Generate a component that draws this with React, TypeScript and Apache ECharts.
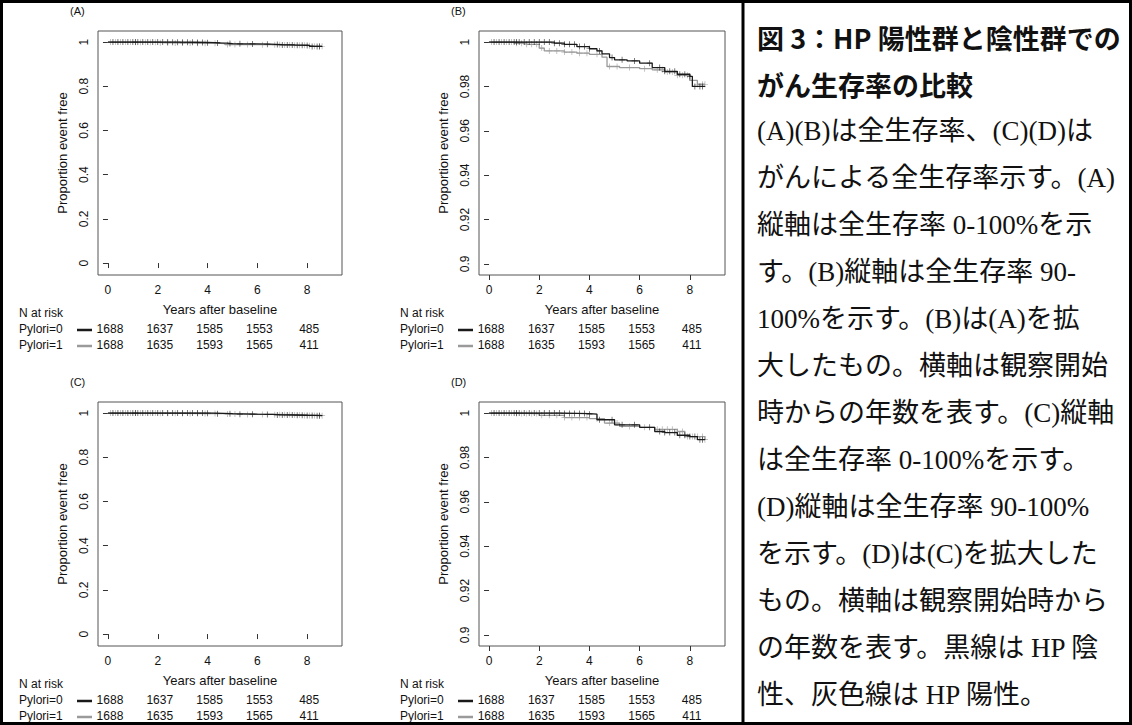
import React, { useEffect, useRef } from "react";
import * as echarts from "echarts";

// Kaplan–Meier step data [years, proportion]
const overallNeg: number[][] = [[0,1],[2.5,1],[2.6,0.9995],[3.0,0.999],[3.5,0.998],[4.0,0.997],[4.3,0.996],[4.5,0.9947],[4.8,0.993],[5.0,0.992],[5.5,0.9915],[6.0,0.9905],[6.5,0.9885],[7.0,0.9868],[7.5,0.9855],[8.0,0.9845],[8.1,0.980],[8.6,0.980]];
const overallPos: number[][] = [[0,1],[1.0,0.9995],[1.5,0.999],[2.0,0.9973],[2.2,0.996],[3.0,0.9955],[3.5,0.995],[4.0,0.9945],[4.5,0.9932],[4.7,0.989],[5.2,0.9885],[6.0,0.988],[6.5,0.9875],[7.0,0.9865],[7.5,0.985],[8.0,0.9827],[8.3,0.981],[8.6,0.981]];
const cancerNeg: number[][] = [[0,1],[2.3,1],[3.0,0.9998],[4.0,0.9995],[4.3,0.997],[5.0,0.9947],[6.0,0.9936],[6.6,0.9917],[7.0,0.9912],[7.5,0.990],[8.0,0.9894],[8.3,0.988],[8.6,0.988]];
const cancerPos: number[][] = [[0,1],[1.0,0.9998],[2.0,0.999],[3.0,0.998],[4.0,0.9975],[4.6,0.9955],[5.2,0.994],[6.0,0.9936],[6.6,0.9927],[7.5,0.9917],[7.8,0.9894],[8.6,0.988]];
// censoring times
const censorNeg: number[] = [0.2,0.4,0.6,0.8,1.0,1.1,1.2,1.4,1.6,1.8,2.0,2.2,2.4,2.6,2.8,3.0,3.2,3.4,3.6,3.8,4.0,4.4,4.9,5.3,5.8,6.4,6.8,7.0,7.2,7.4,7.6,7.8,8.0,8.2,8.4,8.5];
const censorPos: number[] = [0.1,0.3,0.5,0.7,0.9,1.1,1.3,1.5,1.7,1.9,2.1,2.4,2.7,3.0,3.3,3.6,3.9,4.3,4.8,5.1,5.6,6.2,6.7,6.9,7.1,7.3,7.5,7.7,7.9,8.1,8.3,8.5,8.6];
const xTicks = [0, 2, 4, 6, 8];
const riskNeg = [1688, 1637, 1585, 1553, 485];
const riskPos = [1688, 1635, 1593, 1565, 411];
const panelLabels = ["(A)", "(B)", "(C)", "(D)"];
const captionTitle = ["図 3：HP 陽性群と陰性群での", "がん生存率の比較"];
const captionBody = [
  "(A)(B)は全生存率、(C)(D)は",
  "がんによる全生存率示す。(A)",
  "縦軸は全生存率 0-100%を示",
  "す。(B)縦軸は全生存率 90-",
  "100%を示す。(B)は(A)を拡",
  "大したもの。横軸は観察開始",
  "時からの年数を表す。(C)縦軸",
  "は全生存率 0-100%を示す。",
  "(D)縦軸は全生存率 90-100%",
  "を示す。(D)は(C)を拡大した",
  "もの。横軸は観察開始時から",
  "の年数を表す。黒線は HP 陰",
  "性、灰色線は HP 陽性。",
];

const BLACK = "#1a1a1a";
const GRAY = "#9a9a9a";
const SANS = "Liberation Sans, Arial, sans-serif";
const XMIN = -0.4, XMAX = 9.4;

function stepAt(curve: number[][], t: number) {
  let s = curve[0][1];
  for (const p of curve) if (p[0] <= t) s = p[1];
  return s;
}

const panels = [
  { left: 98, top: 31, width: 244, height: 244, ymin: -0.054, ymax: 1.05, ticks: 0.2, neg: overallNeg, pos: overallPos },
  { left: 479, top: 31, width: 246, height: 244, ymin: 0.895, ymax: 1.005, ticks: 0.02, neg: overallNeg, pos: overallPos },
  { left: 98, top: 402, width: 244, height: 244, ymin: -0.054, ymax: 1.05, ticks: 0.2, neg: cancerNeg, pos: cancerPos },
  { left: 479, top: 402, width: 246, height: 244, ymin: 0.895, ymax: 1.005, ticks: 0.02, neg: cancerNeg, pos: cancerPos },
];

const plus = "path://M-0.12,-1H0.12V-0.12H1V0.12H0.12V1H-0.12V0.12H-1V-0.12H-0.12Z";

export default function App() {
  const ref = useRef<HTMLDivElement>(null);
  useEffect(() => {
    document.body.style.margin = "0";
    const chart = echarts.init(ref.current!, null, { renderer: "svg" });
    const grid: any[] = [], xAxis: any[] = [], yAxis: any[] = [], series: any[] = [], graphic: any[] = [];
    panels.forEach((p, i) => {
      grid.push({ left: p.left, top: p.top, width: p.width, height: p.height, show: true, borderColor: "#555", borderWidth: 1, backgroundColor: "#fff" });
      xAxis.push({
        type: "value", gridIndex: i, min: XMIN, max: XMAX, interval: 2,
        name: "Years after baseline", nameLocation: "middle", nameGap: 28,
        nameTextStyle: { fontFamily: SANS, fontSize: 13, color: "#111" },
        axisLine: { show: false }, splitLine: { show: false },
        axisTick: { show: true, length: 5, lineStyle: { color: "#333" }, customValues: xTicks },
        axisLabel: { fontFamily: SANS, fontSize: 12, color: "#111", margin: 9, customValues: xTicks },
      });
      const ticks: number[] = [];
      const n = Math.round((1 - (p.ymin > 0 ? 0.9 : 0)) / p.ticks);
      for (let k = 0; k <= n; k++) ticks.push(+((p.ymin > 0 ? 0.9 : 0) + k * p.ticks).toFixed(2));
      yAxis.push({
        type: "value", gridIndex: i, min: p.ymin, max: p.ymax,
        name: "Proportion event free", nameLocation: "middle", nameGap: 29,
        nameTextStyle: { fontFamily: SANS, fontSize: 13, color: "#111" },
        axisLine: { show: false }, splitLine: { show: false },
        axisTick: { show: true, length: 5, lineStyle: { color: "#333" }, customValues: ticks },
        axisLabel: { fontFamily: SANS, fontSize: 12, color: "#111", rotate: 90, margin: 8, customValues: ticks,
          formatter: (v: number) => String(+v.toFixed(2)) },
      });
      const mk = (data: number[][], color: string, z: number) => ({
        type: "line", xAxisIndex: i, yAxisIndex: i, data, step: "end", showSymbol: false,
        lineStyle: { color, width: 1.3 }, z, silent: true,
      });
      const cens = (curve: number[][], times: number[], color: string, z: number) => ({
        type: "scatter", xAxisIndex: i, yAxisIndex: i, data: times.map((t) => [t, stepAt(curve, t)]),
        symbol: plus, symbolSize: 6, itemStyle: { color }, z, silent: true,
      });
      series.push(mk(p.pos, GRAY, 2), cens(p.pos, censorPos, GRAY, 2), mk(p.neg, BLACK, 3), cens(p.neg, censorNeg, BLACK, 3));

      const px = (t: number) => p.left + ((t - XMIN) / (XMAX - XMIN)) * p.width;
      const base = p.top + p.height;
      const lx = p.left - 79;
      graphic.push({ type: "text", x: p.left - 28, y: p.top - 26, style: { text: panelLabels[i], font: `11px ${SANS}`, fill: "#111" } });
      graphic.push({ type: "text", x: lx, y: base + 32, style: { text: "N at risk", font: `12px ${SANS}`, fill: "#111" } });
      [["Pylori=0", BLACK, riskNeg], ["Pylori=1", GRAY, riskPos]].forEach((r: any, j) => {
        const y = base + 48 + j * 16;
        graphic.push({ type: "text", x: lx, y, style: { text: r[0], font: `12px ${SANS}`, fill: "#111" } });
        graphic.push({ type: "line", shape: { x1: lx + 58, y1: y + 7, x2: lx + 73, y2: y + 7 }, style: { stroke: r[1], lineWidth: 2.5 } });
        r[2].forEach((v: number, k: number) => {
          graphic.push({ type: "text", x: px(xTicks[k]) + 2, y, style: { text: String(v), font: `12px ${SANS}`, fill: "#111", align: "center" } });
        });
      });
    });
    // frame
    graphic.push({ type: "rect", shape: { x: 1.5, y: 1.5, width: 1129, height: 722 }, style: { fill: "none", stroke: "#000", lineWidth: 3 } });
    graphic.push({ type: "line", shape: { x1: 743, y1: 0, x2: 743, y2: 725 }, style: { stroke: "#000", lineWidth: 3 } });
    const tx = 757, lh = 47, y0 = 37;
    captionTitle.forEach((t, k) => graphic.push({ type: "text", x: tx, y: y0 + k * lh, style: { text: t, font: `bold 27px "Noto Sans CJK JP", sans-serif`, fill: "#111", verticalAlign: "middle" } }));
    captionBody.forEach((t, k) => graphic.push({ type: "text", x: tx, y: y0 + (k + 2) * lh, style: { text: t, font: `27px "Liberation Serif", "Noto Sans CJK JP", serif`, fill: "#111", verticalAlign: "middle" } }));

    chart.setOption({ animation: false, backgroundColor: "#fff", grid, xAxis, yAxis, series, graphic });
    return () => chart.dispose();
  }, []);
  return <div ref={ref} style={{ width: 1132, height: 725 }} />;
}
